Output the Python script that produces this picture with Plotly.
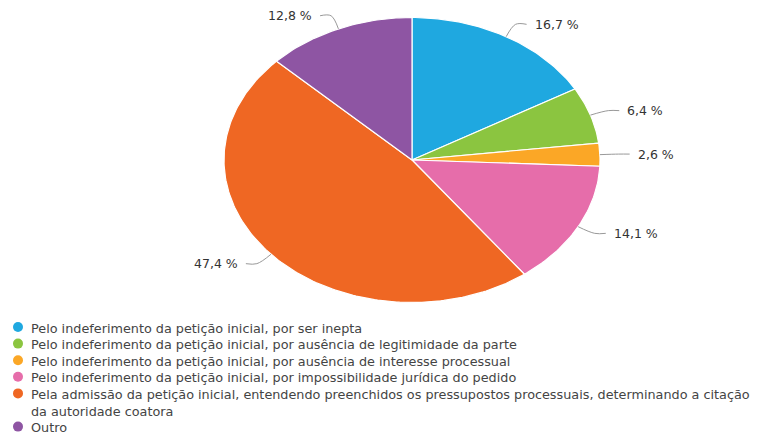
import numpy as np
import plotly.graph_objects as go

# Data
labels = [
    "Pelo indeferimento da petição inicial, por ser inepta",
    "Pelo indeferimento da petição inicial, por ausência de legitimidade da parte",
    "Pelo indeferimento da petição inicial, por ausência de interesse processual",
    "Pelo indeferimento da petição inicial, por impossibilidade jurídica do pedido",
    "Pela admissão da petição inicial, entendendo preenchidos os pressupostos processuais, determinando a citação<br>da autoridade coatora",
    "Outro",
]
values = [16.7, 6.4, 2.6, 14.1, 47.4, 12.8]
value_text = ["16,7 %", "6,4 %", "2,6 %", "14,1 %", "47,4 %", "12,8 %"]
colors = ["#1fa8e0", "#8bc540", "#fba726", "#e66daa", "#ef6723", "#8e55a3"]

# Pie geometry (pixel coordinates, the pie is drawn slightly elliptical)
cx, cy, rx, ry = 412, 160, 188, 142.5

fig = go.Figure()

total = sum(values)
start = 0.0
for lab, val, txt, col in zip(labels, values, value_text, colors):
    a0 = start / total * 2 * np.pi
    a1 = (start + val) / total * 2 * np.pi
    start += val
    t = np.linspace(a0, a1, max(int((a1 - a0) * 60), 4))
    xs = np.concatenate([[cx], cx + rx * np.sin(t), [cx]])
    ys = np.concatenate([[cy], cy - ry * np.cos(t), [cy]])
    fig.add_trace(go.Scatter(x=xs, y=ys, mode="lines", fill="toself",
                             fillcolor=col, line=dict(color="white", width=1.2),
                             hoverinfo="skip", showlegend=False))

    # leader line and label
    m = (a0 + a1) / 2
    ex, ey = cx + rx * np.sin(m), cy - ry * np.cos(m)
    kx, ky = cx + rx * 1.1 * np.sin(m), cy - ry * 1.1 * np.cos(m)
    side = 1 if np.sin(m) >= 0 else -1
    hx = kx + side * 11
    fig.add_trace(go.Scatter(x=[ex, kx, hx], y=[ey, ky, ky], mode="lines",
                             line=dict(color="#999999", width=1, shape="spline"),
                             hoverinfo="skip", showlegend=False))
    fig.add_annotation(x=hx + side * 6, y=ky, text=txt, showarrow=False,
                       xanchor="left" if side > 0 else "right", yanchor="middle",
                       font=dict(family="DejaVu Sans", size=12.5, color="#333333"))

# Custom legend
row_h = 16.6
y = 327
for lab, col in zip(labels, colors):
    fig.add_trace(go.Scatter(x=[18], y=[y], mode="markers",
                             marker=dict(color=col, size=10),
                             hoverinfo="skip", showlegend=False))
    fig.add_annotation(x=29, y=y - 8.5, text=lab, showarrow=False,
                       xanchor="left", yanchor="top", align="left",
                       font=dict(family="DejaVu Sans", size=12.8, color="#444444"))
    y += row_h * (lab.count("<br>") + 1)

# page body has an 8px margin, so the axes start at 8 to keep pixel coordinates
fig.update_layout(
    width=759,
    height=434,
    margin=dict(l=0, r=0, t=0, b=0),
    paper_bgcolor="white",
    plot_bgcolor="white",
    xaxis=dict(range=[8, 767], visible=False, fixedrange=True),
    yaxis=dict(range=[442, 8], visible=False, fixedrange=True),
)

fig.write_html("out.html")
